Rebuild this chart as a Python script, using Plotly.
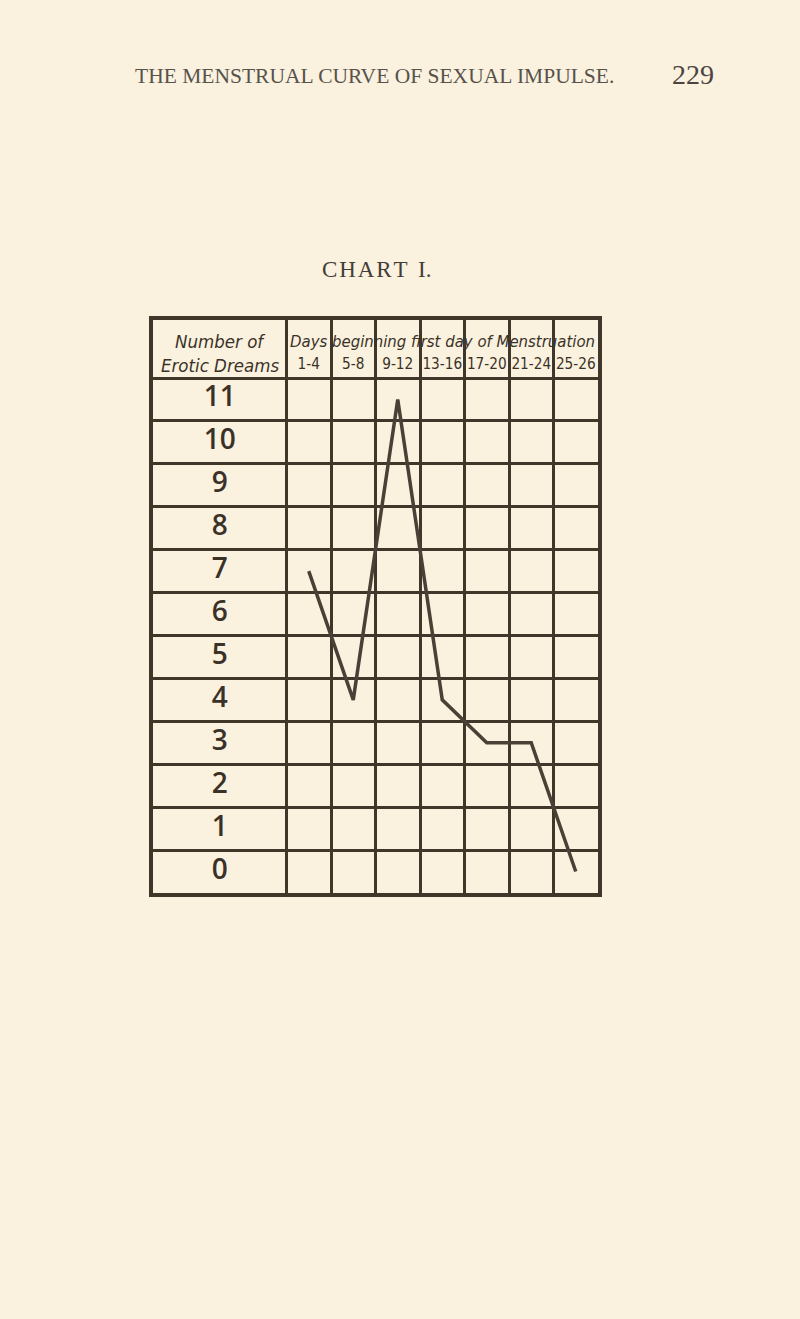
import plotly.graph_objects as go

# Data
day_groups = ["1-4", "5-8", "9-12", "13-16", "17-20", "21-24", "25-26"]
dreams = [7, 4, 11, 4, 3, 3, 0]
row_labels = [str(v) for v in range(0, 12)]

BG = "#faf1df"
INK = "#40362a"
LINE = "#4a4136"
TXT = "#3a3128"

n_cols = len(day_groups)
label_w = 3  # label column width in x-units
x_centers = [i + 0.5 for i in range(n_cols)]
y_top = 12.852

W, H = 800, 1319
ML, MR, MT, MB = 153, 202, 320, 426

fig = go.Figure()

# Row labels in the left column
fig.add_trace(go.Scatter(
    x=[-label_w / 2] * len(row_labels),
    y=list(range(len(row_labels))),
    mode="text",
    text=row_labels,
    textfont=dict(family="Open Sans, DejaVu Sans, Arial", size=28, color=TXT, weight=600),
    hoverinfo="skip", showlegend=False,
))

# Column labels
fig.add_trace(go.Scatter(
    x=x_centers,
    y=[11.80] * n_cols,
    mode="text",
    text=day_groups,
    textfont=dict(family="DejaVu Sans Condensed, Arial Narrow, Arial", size=15.2, color=TXT),
    hoverinfo="skip", showlegend=False,
))

# The curve
fig.add_trace(go.Scatter(
    x=x_centers,
    y=dreams,
    mode="lines",
    line=dict(color=LINE, width=3.5),
    hoverinfo="skip", showlegend=False,
))

hdr_font = dict(family="DejaVu Sans Condensed, Arial", size=18.5, color=TXT)
fig.add_annotation(x=-label_w / 2, y=12.36, xref="x", yref="y", text="<i>Number of</i>",
                   showarrow=False, font=hdr_font)
fig.add_annotation(x=-label_w / 2, y=11.80, xref="x", yref="y", text="<i>Erotic Dreams</i>",
                   showarrow=False, font=hdr_font)
fig.add_annotation(x=n_cols / 2, y=12.34, xref="x", yref="y",
                   text="<i>Days beginning first day of Menstruation</i>",
                   showarrow=False, font=dict(family="DejaVu Sans Condensed, Arial", size=16.6, color=TXT))

# page header / title placed in paper coordinates (relative to plot area)
pw, ph = W - ML - MR, H - MT - MB
def px(xp):
    return (xp - ML) / pw
def py(yp):
    return 1 - (yp - MT) / ph

fig.add_annotation(x=px(133), y=py(76), xref="paper", yref="paper", xanchor="left", yanchor="middle",
                   text="THE MENSTRUAL CURVE OF SEXUAL IMPULSE.", showarrow=False,
                   font=dict(family="Liberation Serif, serif", size=21.5, color="#57524b"))
fig.add_annotation(x=px(716), y=py(75), xref="paper", yref="paper", xanchor="right", yanchor="middle",
                   text="229", showarrow=False,
                   font=dict(family="Liberation Serif, serif", size=28, color="#4a453f"))
fig.add_annotation(x=px(376), y=py(269), xref="paper", yref="paper", xanchor="center", yanchor="middle",
                   text="C\u200aH\u200aA\u200aR\u200aT\u2009 I.", showarrow=False,
                   font=dict(family="Liberation Serif, serif", size=23, color="#423d37"))

fig.update_layout(
    width=W, height=H,
    margin=dict(l=ML, r=MR, t=MT, b=MB),
    paper_bgcolor=BG, plot_bgcolor=BG,
    showlegend=False,
)

fig.update_xaxes(
    range=[-label_w, n_cols],
    tickvals=list(range(0, n_cols)),
    showticklabels=False, ticks="",
    showgrid=True, gridcolor=INK, gridwidth=2.6,
    showline=True, linecolor=INK, linewidth=3.5, mirror=True,
    zeroline=False, fixedrange=True,
)
fig.update_yaxes(
    range=[-0.5, y_top],
    tickvals=[v + 0.5 for v in range(0, 12)],
    showticklabels=False, ticks="",
    showgrid=True, gridcolor=INK, gridwidth=2.6,
    showline=True, linecolor=INK, linewidth=3.5, mirror=True,
    zeroline=False, fixedrange=True,
)

fig.write_html(
    "out.html",
    config={"displayModeBar": False},
    post_script="document.body.style.margin='0';document.body.style.background='" + BG + "';",
)
